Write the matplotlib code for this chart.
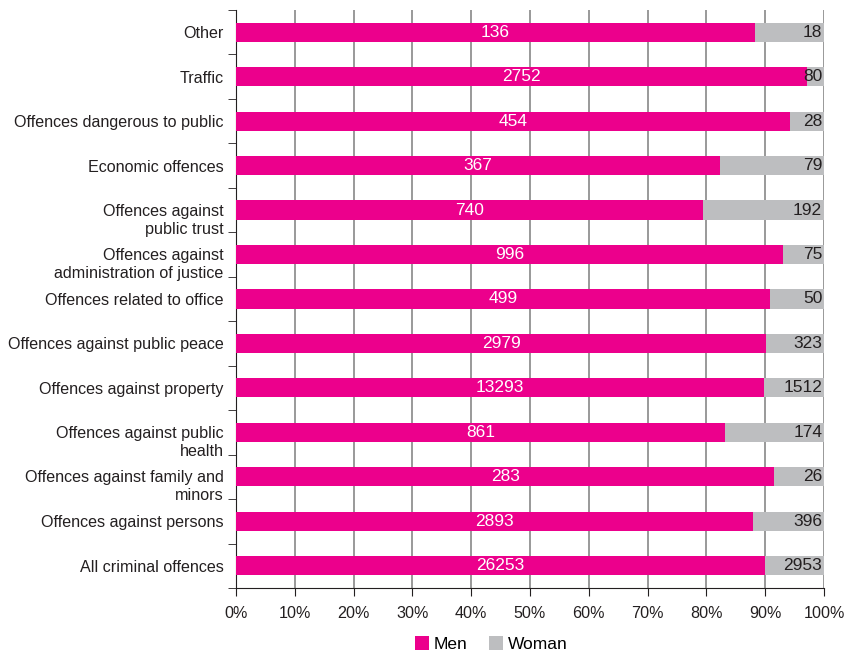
import numpy as np
import matplotlib
matplotlib.use('Agg')
import matplotlib.pyplot as plt
import matplotlib.transforms as mtransforms
from matplotlib.ticker import FixedLocator, PercentFormatter

plt.rcParams['font.family'] = ['Liberation Sans', 'DejaVu Sans']

# bottom to top
categories = [
    'All criminal offences',
    'Offences against persons',
    'Offences against family and\nminors',
    'Offences against public\nhealth',
    'Offences against property',
    'Offences against public peace',
    'Offences related to office',
    'Offences against\nadministration of justice',
    'Offences against\npublic trust',
    'Economic offences',
    'Offences dangerous to public',
    'Traffic',
    'Other',
]
men = [26253, 2893, 283, 861, 13293, 2979, 499, 996, 740, 367, 454, 2752, 136]
woman = [2953, 396, 26, 174, 1512, 323, 50, 75, 192, 79, 28, 80, 18]

PINK = '#EC008C'
GREY = '#BDBEC0'

men_a = np.array(men, dtype=float)
woman_a = np.array(woman, dtype=float)
total = men_a + woman_a
men_pct = men_a / total * 100
woman_pct = woman_a / total * 100
y = np.arange(len(categories))

fig = plt.figure(figsize=(8.47, 6.52), dpi=100)
ax = fig.add_axes([0.2786, 0.0982, 0.6942, 0.8865])

ax.barh(y, men_pct, height=0.43, color=PINK, label='Men', zorder=3)
ax.barh(y, woman_pct, left=men_pct, height=0.43, color=GREY, label='Woman', zorder=3)

for i in range(len(categories)):
    ax.text(men_pct[i] / 2, y[i], str(men[i]), ha='center', va='center',
            color='white', fontsize=12.5, zorder=4)
    ax.text(99.7, y[i], str(woman[i]), ha='right', va='center',
            color='#231F20', fontsize=12.5, zorder=4)

ax.set_xlim(0, 100)
ax.set_ylim(-0.5, len(categories) - 0.5)
ax.set_xticks(np.arange(0, 101, 10))
ax.xaxis.set_major_formatter(PercentFormatter(decimals=0))
ax.set_yticks(y)
ax.set_yticklabels(categories, fontsize=11.6, color='#231F20')
ax.yaxis.set_minor_locator(FixedLocator(np.arange(-0.5, len(categories), 1)))
ax.tick_params(axis='y', which='major', length=0, pad=9)
ax.tick_params(axis='y', which='minor', length=6, color='#231F20')
ax.tick_params(axis='x', length=6, color='#231F20', labelsize=11.6,
               labelcolor='#231F20', pad=7)

# shift two-line labels so the first line sits at the bar
for lab in ax.get_yticklabels():
    if '\n' in lab.get_text():
        lab.set_linespacing(1.25)
        off = mtransforms.ScaledTranslation(0, -7 / 100, fig.dpi_scale_trans)
        lab.set_transform(lab.get_transform() + off)

ax.grid(axis='x', color='#888888', linewidth=1.2, zorder=0)
ax.set_axisbelow(True)
for s in ['top', 'right']:
    ax.spines[s].set_visible(False)
ax.spines['left'].set_color('#231F20')
ax.spines['bottom'].set_color('#231F20')

fig.legend(loc='lower center', bbox_to_anchor=(0.58, -0.024), ncol=2, frameon=False,
           fontsize=12.5, handlelength=0.8, handleheight=0.8, columnspacing=1.2,
           handletextpad=0.3)

fig.savefig('out.png', dpi=100)
